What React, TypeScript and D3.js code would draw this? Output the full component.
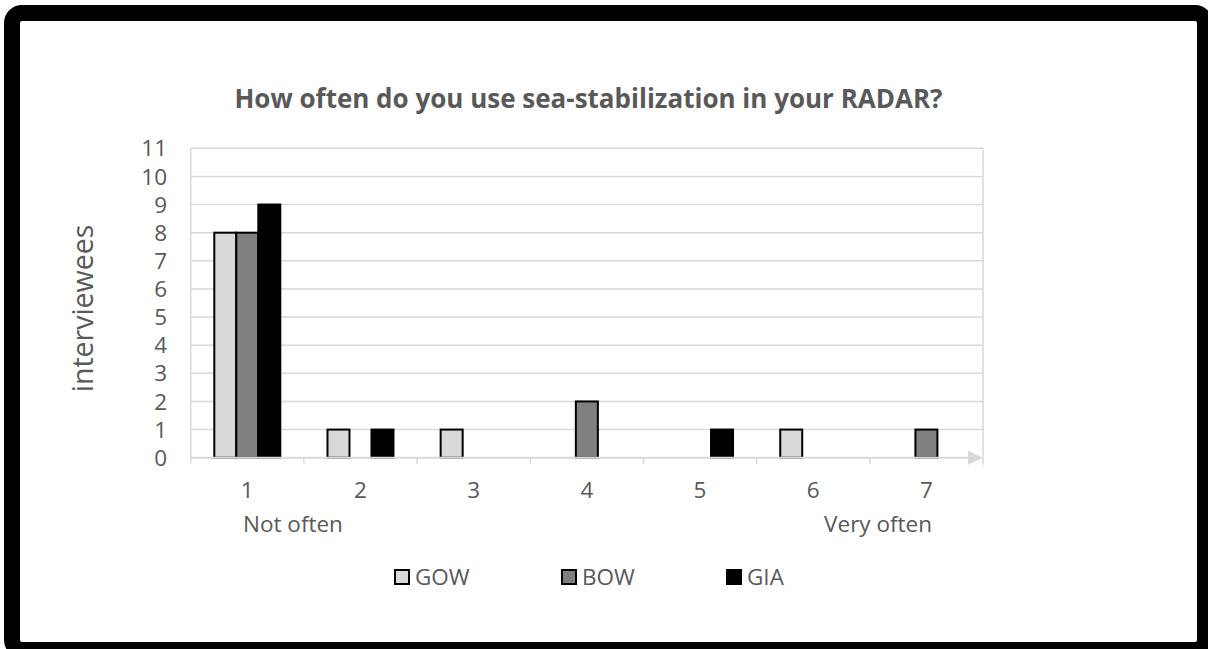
import React from "react";
import * as d3 from "d3";

const categories = ["1", "2", "3", "4", "5", "6", "7"];
const seriesNames = ["GOW", "BOW", "GIA"];
const gowValues = [8, 1, 1, 0, 0, 1, 0];
const bowValues = [8, 0, 0, 2, 0, 0, 1];
const giaValues = [9, 1, 0, 0, 1, 0, 0];
const yTicks = [0, 1, 2, 3, 4, 5, 6, 7, 8, 9, 10, 11];
const seriesColors = ["#d9d9d9", "#808080", "#000000"];
const title = "How often do you use sea-stabilization in your RADAR?";
const yLabel = "interviewees";

export default function App() {
  const W = 1208, H = 649;
  const left = 190.7, right = 983, top = 148.3, bottom = 457.7;
  const font = "'Open Sans', sans-serif";
  const textColor = "#595959";
  const grid = "#d9d9d9";
  const fs = 22.5;
  const series = [gowValues, bowValues, giaValues];

  const x = d3.scaleBand<string>().domain(categories).range([left, right]).padding(0);
  const bw = x.bandwidth();
  const groupW = bw * 0.583;
  const xs = d3
    .scaleBand<string>()
    .domain(seriesNames)
    .range([(bw - groupW) / 2, (bw + groupW) / 2])
    .padding(0);
  const y = d3.scaleLinear().domain([0, 11]).range([bottom, top]);

  return (
    <svg width={W} height={H} style={{ position: "absolute", left: 0, top: 0, display: "block" }}>
      <rect x={0} y={0} width={W} height={H} fill="#fff" />
      {/* gridlines */}
      {yTicks.map((t) =>
        t === 0 ? null : (
          <line key={t} x1={left} x2={right} y1={y(t)} y2={y(t)} stroke={grid} strokeWidth={1.5} />
        )
      )}
      <line x1={left} x2={left} y1={top} y2={bottom + 6} stroke={grid} strokeWidth={1.5} />
      <line x1={right} x2={right} y1={top} y2={bottom + 7} stroke={grid} strokeWidth={1.5} />
      {/* y tick labels */}
      {yTicks.map((t) => (
        <text
          key={t}
          x={167}
          y={y(t)}
          dy="0.36em"
          textAnchor="end"
          fontFamily={font}
          fontSize={fs}
          fill={textColor}
        >
          {t}
        </text>
      ))}
      {/* bars */}
      {categories.map((c, i) =>
        series.map((vals, s) =>
          vals[i] > 0 ? (
            <rect
              key={c + s}
              x={(x(c) as number) + (xs(seriesNames[s]) as number)}
              y={y(vals[i])}
              width={xs.bandwidth()}
              height={bottom - y(vals[i])}
              fill={seriesColors[s]}
              stroke="#000"
              strokeWidth={2}
            />
          ) : null
        )
      )}
      {/* x axis */}
      <line x1={left} x2={right - 14} y1={bottom} y2={bottom} stroke={grid} strokeWidth={2} />
      <path
        d={`M${right - 15},${bottom - 7} L${right},${bottom} L${right - 15},${bottom + 7} Z`}
        fill={grid}
      />
      {categories.slice(1).map((c) => (
        <line
          key={c}
          x1={x(c) as number}
          x2={x(c) as number}
          y1={bottom}
          y2={bottom + 6}
          stroke={grid}
          strokeWidth={1.5}
        />
      ))}
      {categories.map((c) => (
        <text
          key={c}
          x={(x(c) as number) + bw / 2}
          y={490}
          dy="0.36em"
          textAnchor="middle"
          fontFamily={font}
          fontSize={fs}
          fill={textColor}
        >
          {c}
        </text>
      ))}
      <text x={243} y={532} fontFamily={font} fontSize={fs} fill={textColor}>
        Not often
      </text>
      <text x={932} y={532} textAnchor="end" fontFamily={font} fontSize={fs} fill={textColor}>
        Very often
      </text>
      {/* title */}
      <text
        x={588.5}
        y={108}
        textAnchor="middle"
        fontFamily={font}
        fontWeight="bold"
        fontSize={26}
        fill={textColor}
      >
        {title}
      </text>
      {/* y label */}
      <text
        transform={`translate(93, 308.5) rotate(-90)`}
        textAnchor="middle"
        fontFamily={font}
        fontSize={28.5}
        fill={textColor}
      >
        {yLabel}
      </text>
      {/* legend */}
      {seriesNames.map((n, i) => {
        const lx = [395, 562, 727][i];
        return (
          <g key={n}>
            <rect x={lx} y={570} width={14} height={14} fill={seriesColors[i]} stroke="#000" strokeWidth={2} />
            <text x={lx + 20} y={577} dy="0.36em" fontFamily={font} fontSize={fs} fill={textColor}>
              {n}
            </text>
          </g>
        );
      })}
      {/* outer frame */}
      <rect x={12} y={13} width={1193} height={637} rx={10} fill="none" stroke="#000" strokeWidth={16} />
    </svg>
  );
}
